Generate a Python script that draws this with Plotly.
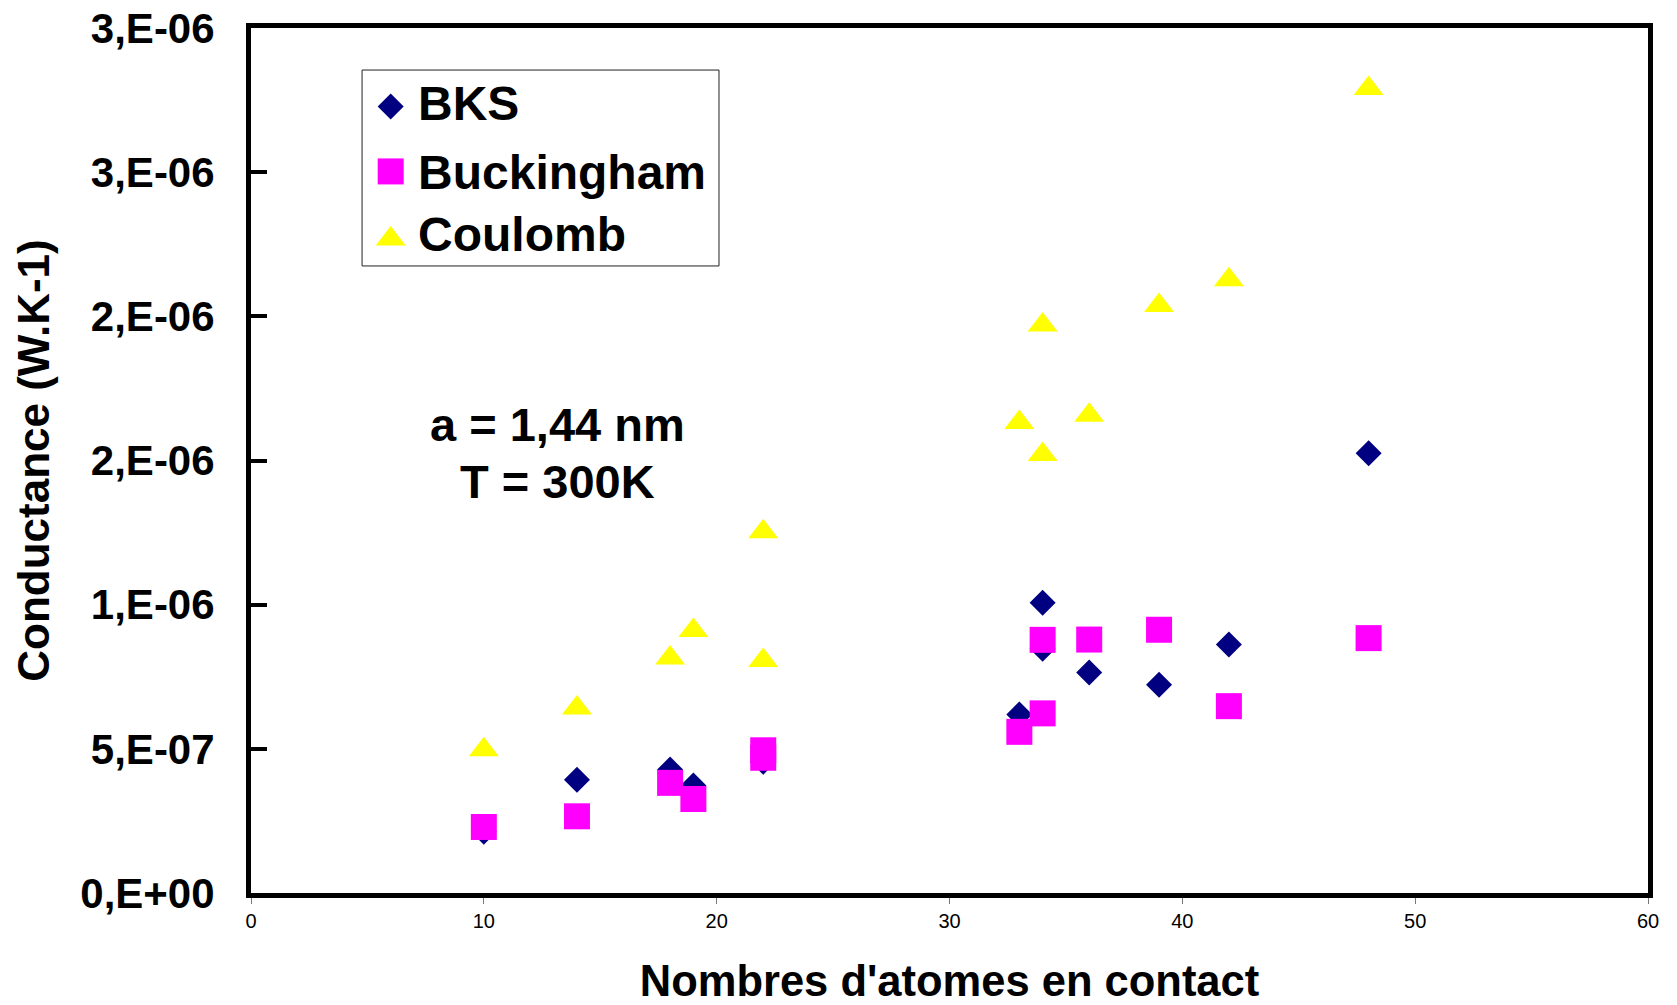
import plotly.graph_objects as go

# Number of atoms in contact (x) and thermal conductance (W/K) per potential
atoms = [10, 14, 18, 19, 22, 22, 33, 34, 34, 36, 39, 42, 48]
bks = [0.212e-6, 0.393e-6, 0.428e-6, 0.373e-6, 0.455e-6, 0.47e-6, 0.619e-6,
       1.007e-6, 0.847e-6, 0.765e-6, 0.722e-6, 0.862e-6, 1.525e-6]
buckingham = [0.229e-6, 0.266e-6, 0.382e-6, 0.326e-6, 0.495e-6, 0.469e-6, 0.559e-6,
              0.878e-6, 0.623e-6, 0.879e-6, 0.913e-6, 0.648e-6, 0.884e-6]
coulomb = [0.497e-6, 0.642e-6, 0.815e-6, 0.91e-6, 1.253e-6, 0.806e-6, 1.632e-6,
           1.97e-6, 1.521e-6, 1.657e-6, 2.038e-6, 2.127e-6, 2.79e-6]

series_names = ["BKS", "Buckingham", "Coulomb"]
series_values = [bks, buckingham, coulomb]
series_symbols = ["diamond", "square", "triangle-up"]
series_sizes = [20, 26, 26]
series_colors = ["#000080", "#FF00FF", "#FFFF00"]

y_tickvals = [0, 0.5e-6, 1.0e-6, 1.5e-6, 2.0e-6, 2.5e-6, 3.0e-6]
y_ticktext = ["0,E+00", "5,E-07", "1,E-06", "2,E-06", "2,E-06", "3,E-06", "3,E-06"]
x_tickvals = [0, 10, 20, 30, 40, 50, 60]

FONT = "Liberation Sans, Arial, sans-serif"

fig = go.Figure()
for name, vals, sym, size, col in zip(series_names, series_values, series_symbols,
                                      series_sizes, series_colors):
    fig.add_trace(go.Scatter(x=atoms, y=vals, mode="markers", name=name,
                             showlegend=False,
                             marker=dict(symbol=sym, size=size, color=col,
                                         line=dict(width=0))))

# Boxed key in the upper-left corner of the plot area (paper-like overlay axes)
key_marker_x = 0.100
key_text_x = 0.118
key_marker_y = [0.9093, 0.8342, 0.7560]
key_text_y = [0.9129, 0.8324, 0.7607]
for name, sym, size, col, my in zip(series_names, series_symbols, series_sizes,
                                    series_colors, key_marker_y):
    fig.add_trace(go.Scatter(x=[key_marker_x], y=[my], xaxis="x2", yaxis="y2",
                             mode="markers", showlegend=False, hoverinfo="skip",
                             marker=dict(symbol=sym, size=size, color=col,
                                         line=dict(width=0))))
for name, ty in zip(series_names, key_text_y):
    fig.add_annotation(text=name, xref="paper", yref="paper", x=key_text_x, y=ty,
                       xanchor="left", yanchor="middle", showarrow=False,
                       font=dict(family=FONT, size=48, color="black", weight="bold"))
fig.add_shape(type="rect", xref="paper", yref="paper",
              x0=0.0795, x1=0.335, y0=0.7249, y1=0.9514,
              line=dict(color="#222222", width=1), fillcolor="white", layer="below")

fig.update_layout(
    width=1677, height=1005,
    margin=dict(l=251, r=29, t=28, b=112, pad=0),
    plot_bgcolor="white", paper_bgcolor="white",
    showlegend=False,
    xaxis=dict(
        range=[0, 60], tickvals=x_tickvals, automargin=False,
        showgrid=False, zeroline=False,
        showline=True, linecolor="black", linewidth=5, mirror=True,
        ticks="outside", ticklen=6, tickwidth=1, tickcolor="#777777",
        tickfont=dict(family=FONT, size=20, color="black"),
        title=dict(text="Nombres d'atomes en contact", standoff=36,
                   font=dict(family=FONT, size=43.5, color="black", weight="bold")),
    ),
    yaxis=dict(
        range=[0, 3e-6], tickvals=y_tickvals, ticktext=y_ticktext, automargin=False,
        showgrid=False, zeroline=False,
        showline=True, linecolor="black", linewidth=5, mirror=True,
        ticks="inside", ticklen=16, tickwidth=4, tickcolor="black",
        ticklabelstandoff=23,
        tickfont=dict(family=FONT, size=42, color="black", weight="bold"),
        title=dict(text="Conductance (W.K-1)", standoff=18,
                   font=dict(family=FONT, size=44, color="black", weight="bold")),
    ),
    xaxis2=dict(overlaying="x", anchor="y", range=[0, 1], visible=False,
                automargin=False, fixedrange=True),
    yaxis2=dict(overlaying="y", anchor="x", range=[0, 1], visible=False,
                automargin=False, fixedrange=True),
)

# Simulation parameters written inside the plot area
for txt, ypos in [("a = 1,44 nm", 0.542), ("T = 300K", 0.4755)]:
    fig.add_annotation(text=txt, xref="paper", yref="paper",
                       x=0.2195, y=ypos, xanchor="center", yanchor="middle",
                       showarrow=False,
                       font=dict(family=FONT, size=47, color="black", weight="bold"))

fig.write_html("out.html")
